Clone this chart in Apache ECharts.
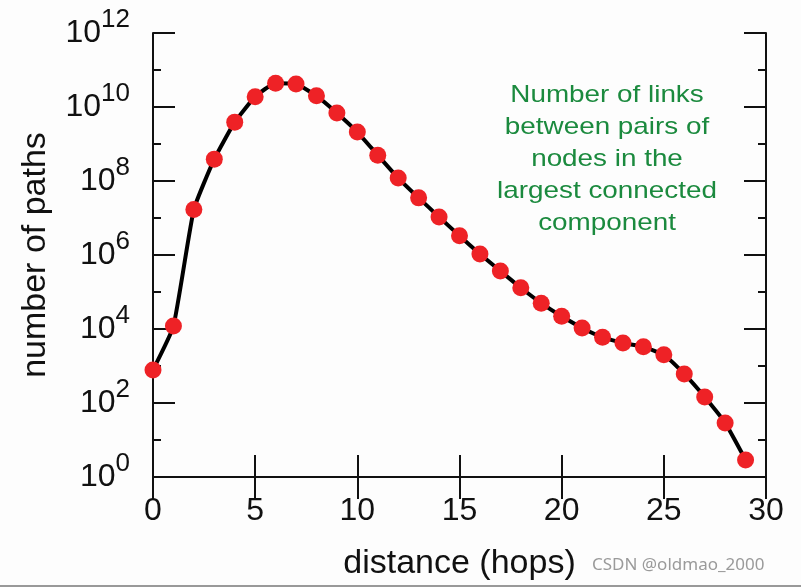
<!DOCTYPE html>
<html>
<head>
<meta charset="utf-8">
<script src="https://cdn.jsdelivr.net/npm/echarts@6/dist/echarts.min.js"></script>
<style>html,body{margin:0;padding:0;background:#fdfdfd;}#c{width:801px;height:587px;}</style>
</head>
<body>
<div id="c"></div>
<script>
// distance (hops)
var hops = [0,1,2,3,4,5,6,7,8,9,10,11,12,13,14,15,16,17,18,19,20,21,22,23,24,25,26,27,28,29];
// number of paths
var paths = [780, 1.2e4, 1.7e7, 3.9e8, 3.9e9, 1.9e10, 4.4e10, 4.2e10, 2.0e10, 6.9e9,
             2.1e9, 5.0e8, 1.2e8, 3.5e7, 1.07e7, 3.3e6, 1.07e6, 3.7e5, 1.3e5, 5.0e4,
             2.2e4, 1.07e4, 6.0e3, 4.2e3, 3.3e3, 2.0e3, 610, 145, 29, 2.9];
// y tick exponents (labels are 10^n)
var yExpMin = 0, yExpMax = 12, yMajorStep = 2, yMinorStep = 1;
var xTicks = [0, 5, 10, 15, 20, 25, 30];
var annotationLines = ['Number of links', 'between pairs of', 'nodes in the', 'largest connected', 'component'];
var axisName = {x: 'distance (hops)', y: 'number of paths'};
var watermark = 'CSDN @oldmao_2000';

var FONT = 'Liberation Sans, Arial, sans-serif';
var AX = '#111';
var chart = echarts.init(document.getElementById('c'), null, {renderer: 'canvas'});
var data = hops.map(function (h, i) { return [h, paths[i]]; });

function yValAxis(pos, step, tickLen, labels, line) {
  return {
    type: 'value', position: pos, min: yExpMin, max: yExpMax, interval: step,
    axisLine: {show: line, lineStyle: {color: AX, width: 2}},
    axisTick: {show: true, inside: true, length: tickLen, lineStyle: {color: AX, width: 2}},
    splitLine: {show: false},
    axisLabel: labels ? {
      show: true, margin: 23,
      formatter: function (v) { return '{b|10}{s|' + v + '}'; },
      rich: {
        b: {fontSize: 32, fontFamily: FONT, color: AX, lineHeight: 52, verticalAlign: 'middle'},
        s: {fontSize: 26, fontFamily: FONT, color: AX, verticalAlign: 'top'}
      }
    } : {show: false}
  };
}
function xValAxis(pos, labels) {
  return {
    type: 'value', position: pos, min: xTicks[0], max: xTicks[xTicks.length - 1], interval: 5,
    axisLine: {show: true, lineStyle: {color: AX, width: 2}},
    axisTick: {show: true, inside: true, length: 22, lineStyle: {color: AX, width: 2}},
    splitLine: {show: false},
    axisLabel: labels ? {show: true, fontSize: 32, fontFamily: FONT, color: AX, margin: 18} : {show: false},
    name: labels ? axisName.x : '',
    nameLocation: 'middle', nameGap: 70,
    nameTextStyle: {fontSize: 34, fontFamily: FONT, color: AX}
  };
}

var yAxes = [
  {type: 'log', logBase: 10, min: Math.pow(10, yExpMin), max: Math.pow(10, yExpMax), position: 'left',
   axisLine: {show: false}, axisTick: {show: false}, axisLabel: {show: false}, splitLine: {show: false}},
  yValAxis('left', yMajorStep, 22, true, true),
  yValAxis('left', yMinorStep, 8, false, false),
  yValAxis('right', yMajorStep, 22, false, true),
  yValAxis('right', yMinorStep, 8, false, false)
];
yAxes[1].name = axisName.y;
yAxes[1].nameLocation = 'middle';
yAxes[1].nameGap = 100;
yAxes[1].nameTextStyle = {fontSize: 34, fontFamily: FONT, color: AX};

var gfx = [
  {type: 'text', x: 607, y: 79, scaleX: 1.16, z: 10,
   style: {text: annotationLines.join('\n'), fill: '#1b8a3e', fontSize: 24, fontFamily: FONT,
           lineHeight: 32, textAlign: 'center', textVerticalAlign: 'top'}},
  {type: 'text', x: 592, y: 565, z: 10,
   style: {text: watermark, fill: '#9a9a9a', fontSize: 17, fontFamily: 'Noto Sans, sans-serif',
           textAlign: 'left', textVerticalAlign: 'middle'}},
  {type: 'line', z: 10, shape: {x1: 0, y1: 586, x2: 801, y2: 586}, style: {stroke: '#777', lineWidth: 1.5}}
];

chart.setOption({
  backgroundColor: '#fdfdfd',
  animation: false,
  grid: {left: 153, right: 35, top: 33, bottom: 110, containLabel: false},
  xAxis: [xValAxis('bottom', true), xValAxis('top', false)],
  yAxis: yAxes,
  graphic: gfx,
  series: [{
    type: 'line', xAxisIndex: 0, yAxisIndex: 0, data: data,
    smooth: 0.15, clip: false,
    symbol: 'circle', symbolSize: 17,
    lineStyle: {color: '#000', width: 4},
    itemStyle: {color: '#ee2226', borderWidth: 0}
  }]
});
</script>
</body>
</html>
